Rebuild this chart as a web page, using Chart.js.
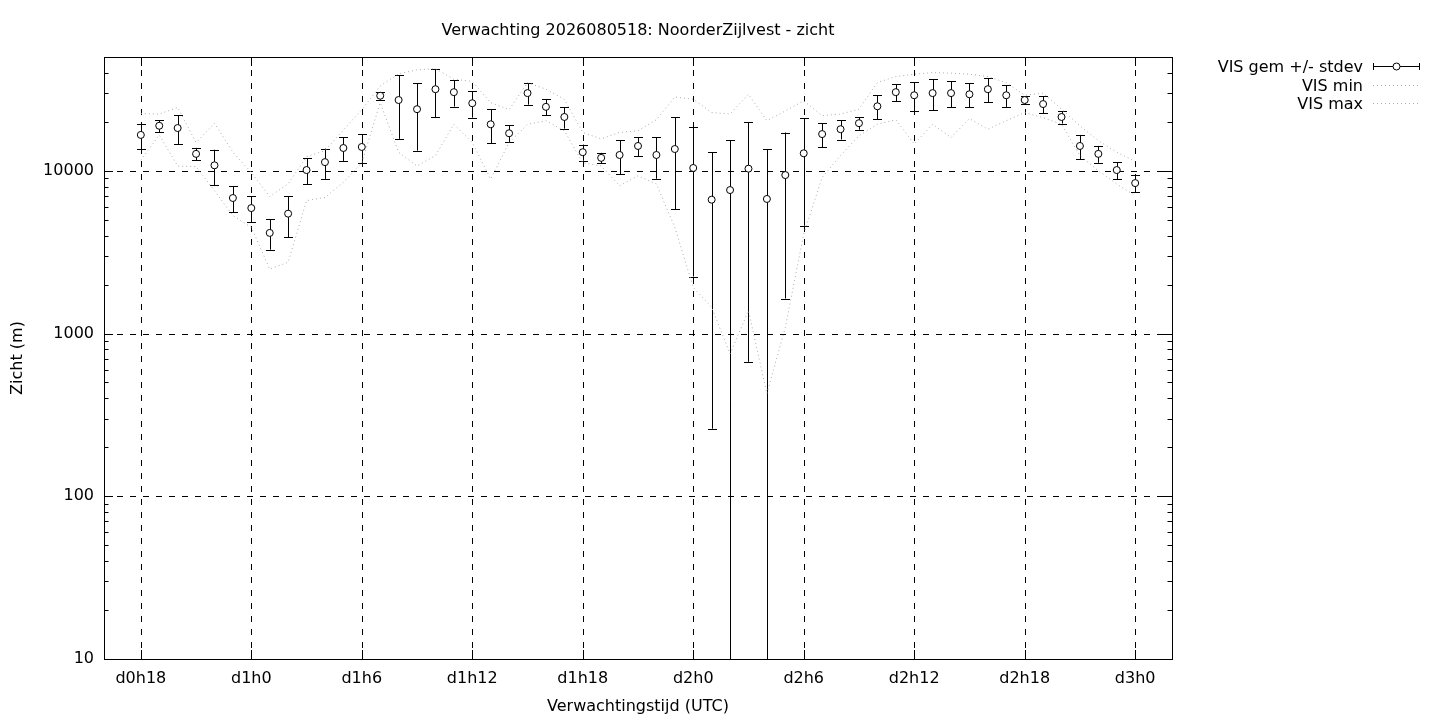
<!DOCTYPE html>
<html lang="nl">
<head>
  <meta charset="UTF-8">
  <title>Verwachting 2026080518: NoorderZijlvest - zicht</title>
  <script src="https://cdn.jsdelivr.net/npm/chart.js"></script>
  <style>
    html, body { margin: 0; padding: 0; background: #fff; }
    #wrap { width: 1440px; height: 720px; }
  </style>
</head>
<body>
<div id="wrap"><canvas id="chart" width="1440" height="720"></canvas></div>
<script>
// hours after d0h18 (one forecast step per hour)
const hours = [0, 1, 2, 3, 4, 5, 6, 7, 8, 9, 10, 11, 12, 13, 14, 15, 16, 17, 18, 19, 20,
  21, 22, 23, 24, 25, 26, 27, 28, 29, 30, 31, 32, 33, 34, 35, 36, 37, 38, 39, 40,
  41, 42, 43, 44, 45, 46, 47, 48, 49, 50, 51, 52, 53, 54];

// visibility (m): ensemble mean, stdev, min and max
const visMean = [16600, 18900, 18300, 12700, 10800, 6800, 5900, 4150, 5450, 10100, 11300,
  13800, 14000, 28900, 27200, 23900, 31700, 30400, 26000, 19300, 17000,
  30000, 24700, 21400, 13000, 12000, 12500, 14200, 12500, 13600, 10400,
  6640, 7610, 10300, 6710, 9410, 12800, 16800, 18000, 19600, 24900,
  30400, 29100, 30000, 30000, 29500, 31700, 29100, 27200, 25700, 21400,
  14200, 12700, 10100, 8400];
const visStdev = [2900, 1600, 3700, 1120, 2670, 1260, 1090, 875, 1540, 1860, 2390,
  2310, 2820, 1550, 11500, 10600, 10300, 5600, 4800, 4560, 2040,
  4530, 2840, 3250, 1480, 880, 2950, 1920, 3570, 7790, 8160,
  6380, 7820, 9630, 6880, 7770, 8210, 2820, 2440, 1730, 4200,
  3640, 5870, 6540, 5520, 4970, 5330, 4420, 1580, 3070, 1890,
  2390, 1510, 1210, 1000];
const visMin = [11600, 16600, 10700, 10600, 7540, 5300, 4490, 2490, 2740, 6550, 6860,
  8480, 11200, 26200, 13000, 10700, 12400, 19300, 14900, 8890, 14900,
  19300, 20300, 17600, 11200, 10700, 8090, 9320, 8290, 4490, 1920,
  1450, 750, 1380, 427, 1090, 4090, 9100, 12400, 16400, 19300,
  20600, 14600, 19300, 16000, 20900, 18000, 20300, 22800, 21200, 19300,
  12400, 10000, 8290, 7030];
const visMax = [22500, 22300, 24500, 14900, 19600, 13000, 9760, 6930, 8320, 12200, 13300,
  17800, 23700, 33200, 39400, 41700, 42400, 36500, 35400, 26200, 23700,
  34800, 31700, 27500, 17200, 15700, 17200, 17600, 20600, 28400, 27500,
  22800, 22300, 29500, 20300, 23300, 26900, 21800, 22300, 23900, 34800,
  37900, 39200, 40100, 39800, 39200, 37900, 34800, 29100, 30000, 23900,
  18900, 15300, 13000, 11400];

const xTickHours = [0, 6, 12, 18, 24, 30, 36, 42, 48, 54];
const xTickLabels = ['d0h18', 'd1h0', 'd1h6', 'd1h12', 'd1h18', 'd2h0', 'd2h6', 'd2h12', 'd2h18', 'd3h0'];
const yTickValues = [10, 100, 1000, 10000];
const yTickLabels = ['10', '100', '1000', '10000'];

const seriesLabels = ['VIS gem +/- stdev', 'VIS min', 'VIS max'];
const titleText = 'Verwachting 2026080518: NoorderZijlvest - zicht';
const xTitle = 'Verwachtingstijd (UTC)';
const yTitle = 'Zicht (m)';

const FONT = '16px "DejaVu Sans", sans-serif';
const DOT_COLOR = '#ababab';
const GRID_DASH = [6, 7];

const toPoints = arr => hours.map((h, i) => ({ x: h, y: arr[i] }));

// gnuplot look: dashed grid, error bars, inward ticks, frame, titles, key
const gnuplotLook = {
  id: 'gnuplotLook',
  beforeDatasetsDraw(chart) {
    const { ctx, chartArea: a, scales: { x, y } } = chart;
    ctx.save();
    ctx.strokeStyle = '#000';
    ctx.lineWidth = 1;

    // dashed grid
    ctx.setLineDash(GRID_DASH);
    ctx.beginPath();
    xTickHours.forEach(h => {
      const px = Math.round(x.getPixelForValue(h)) + 0.5;
      ctx.moveTo(px, a.top); ctx.lineTo(px, a.bottom);
    });
    yTickValues.forEach(v => {
      if (v <= y.min) return;
      const py = Math.round(y.getPixelForValue(v)) + 0.5;
      ctx.moveTo(a.left, py); ctx.lineTo(a.right, py);
    });
    ctx.stroke();
    ctx.setLineDash([]);

    // error bars (mean +/- stdev)
    ctx.beginPath();
    ctx.rect(a.left, a.top, a.right - a.left, a.bottom - a.top);
    ctx.clip();
    ctx.beginPath();
    hours.forEach((h, i) => {
      const px = Math.round(x.getPixelForValue(h)) + 0.5;
      const hi = visMean[i] + visStdev[i];
      const lo = visMean[i] - visStdev[i];
      const pyHi = y.getPixelForValue(hi);
      const pyLo = lo > 0 ? y.getPixelForValue(lo) : a.bottom + 5;
      ctx.moveTo(px, pyHi); ctx.lineTo(px, pyLo);
      ctx.moveTo(px - 4.5, Math.round(pyHi) + 0.5); ctx.lineTo(px + 4.5, Math.round(pyHi) + 0.5);
      if (lo > 0 && pyLo < a.bottom) {
        ctx.moveTo(px - 4.5, Math.round(pyLo) + 0.5); ctx.lineTo(px + 4.5, Math.round(pyLo) + 0.5);
      }
    });
    ctx.stroke();
    ctx.restore();
  },
  afterDraw(chart) {
    const { ctx, chartArea: a, scales: { x, y } } = chart;
    ctx.save();
    ctx.strokeStyle = '#000';
    ctx.lineWidth = 1;
    ctx.setLineDash([]);

    // ticks on all four sides, pointing inward
    ctx.beginPath();
    xTickHours.forEach(h => {
      const px = Math.round(x.getPixelForValue(h)) + 0.5;
      ctx.moveTo(px, a.bottom); ctx.lineTo(px, a.bottom - 9);
      ctx.moveTo(px, a.top); ctx.lineTo(px, a.top + 9);
    });
    yTickValues.forEach(dec => {
      for (let m = 1; m <= 9; m++) {
        const v = dec * m;
        if (v > y.max) break;
        const len = m === 1 ? 9 : 4.5;
        const py = Math.round(y.getPixelForValue(v)) + 0.5;
        ctx.moveTo(a.left, py); ctx.lineTo(a.left + len, py);
        ctx.moveTo(a.right, py); ctx.lineTo(a.right - len, py);
      }
    });
    ctx.stroke();

    // frame
    ctx.strokeRect(Math.round(a.left) + 0.5, Math.round(a.top) + 0.5,
      Math.round(a.right - a.left), Math.round(a.bottom - a.top));

    // titles
    ctx.fillStyle = '#000';
    ctx.font = FONT;
    ctx.textAlign = 'center';
    ctx.textBaseline = 'middle';
    const cx = (a.left + a.right) / 2;
    ctx.fillText(titleText, cx, 30.5);
    ctx.fillText(xTitle, cx, 707);
    ctx.save();
    ctx.translate(18, (a.top + a.bottom) / 2);
    ctx.rotate(-Math.PI / 2);
    ctx.fillText(yTitle, 0, 0);
    ctx.restore();

    // key
    const keyTextX = 1363, keyX0 = 1373, keyX1 = 1420;
    const rows = [66, 85, 103];
    ctx.textAlign = 'right';
    seriesLabels.forEach((lab, i) => ctx.fillText(lab, keyTextX, rows[i] + 1.5));

    ctx.beginPath();
    ctx.moveTo(keyX0, rows[0] + 0.5); ctx.lineTo(keyX1, rows[0] + 0.5);
    ctx.moveTo(keyX0 + 0.5, rows[0] - 3); ctx.lineTo(keyX0 + 0.5, rows[0] + 4);
    ctx.moveTo(keyX1 - 0.5, rows[0] - 3); ctx.lineTo(keyX1 - 0.5, rows[0] + 4);
    ctx.stroke();
    ctx.beginPath();
    ctx.arc((keyX0 + keyX1) / 2, rows[0] + 0.5, 3.5, 0, Math.PI * 2);
    ctx.fillStyle = '#fff';
    ctx.fill();
    ctx.stroke();

    ctx.strokeStyle = DOT_COLOR;
    ctx.setLineDash([1, 3]);
    ctx.beginPath();
    [rows[1], rows[2]].forEach(r => {
      ctx.moveTo(keyX0, r + 0.5); ctx.lineTo(keyX1, r + 0.5);
    });
    ctx.stroke();
    ctx.restore();
  }
};

const ctx = document.getElementById('chart').getContext('2d');
new Chart(ctx, {
  type: 'scatter',
  data: {
    datasets: [
      {
        label: seriesLabels[0],
        data: toPoints(visMean),
        showLine: false,
        pointRadius: 3.5,
        pointBackgroundColor: '#fff',
        pointBorderColor: '#000',
        pointBorderWidth: 1,
        order: 0
      },
      {
        label: seriesLabels[1],
        data: toPoints(visMin),
        showLine: true,
        borderColor: DOT_COLOR,
        borderWidth: 1,
        borderDash: [1, 3],
        pointRadius: 0,
        order: 1
      },
      {
        label: seriesLabels[2],
        data: toPoints(visMax),
        showLine: true,
        borderColor: DOT_COLOR,
        borderWidth: 1,
        borderDash: [1, 3],
        pointRadius: 0,
        order: 2
      }
    ]
  },
  options: {
    responsive: false,
    animation: false,
    devicePixelRatio: 1,
    layout: { padding: { top: 57, right: 268, left: 0, bottom: 0 } },
    plugins: {
      legend: { display: false },
      title: { display: false },
      tooltip: { enabled: false }
    },
    scales: {
      x: {
        type: 'linear',
        min: -2,
        max: 56,
        afterBuildTicks: s => { s.ticks = xTickHours.map(v => ({ value: v })); },
        afterFit: s => { s.height = 61; },
        grid: { display: false, drawTicks: false },
        border: { display: false },
        ticks: {
          callback: v => xTickLabels[xTickHours.indexOf(v)],
          font: { family: 'DejaVu Sans', size: 16 },
          color: '#000',
          padding: 10,
          maxRotation: 0,
          autoSkip: false
        }
      },
      y: {
        type: 'logarithmic',
        min: 10,
        max: 50000,
        afterBuildTicks: s => { s.ticks = yTickValues.map(v => ({ value: v })); },
        afterFit: s => { s.width = 104; },
        grid: { display: false, drawTicks: false },
        border: { display: false },
        ticks: {
          callback: v => yTickLabels[yTickValues.indexOf(v)],
          font: { family: 'DejaVu Sans', size: 16 },
          color: '#000',
          padding: 10,
          autoSkip: false
        }
      }
    }
  },
  plugins: [gnuplotLook]
});
</script>
</body>
</html>
